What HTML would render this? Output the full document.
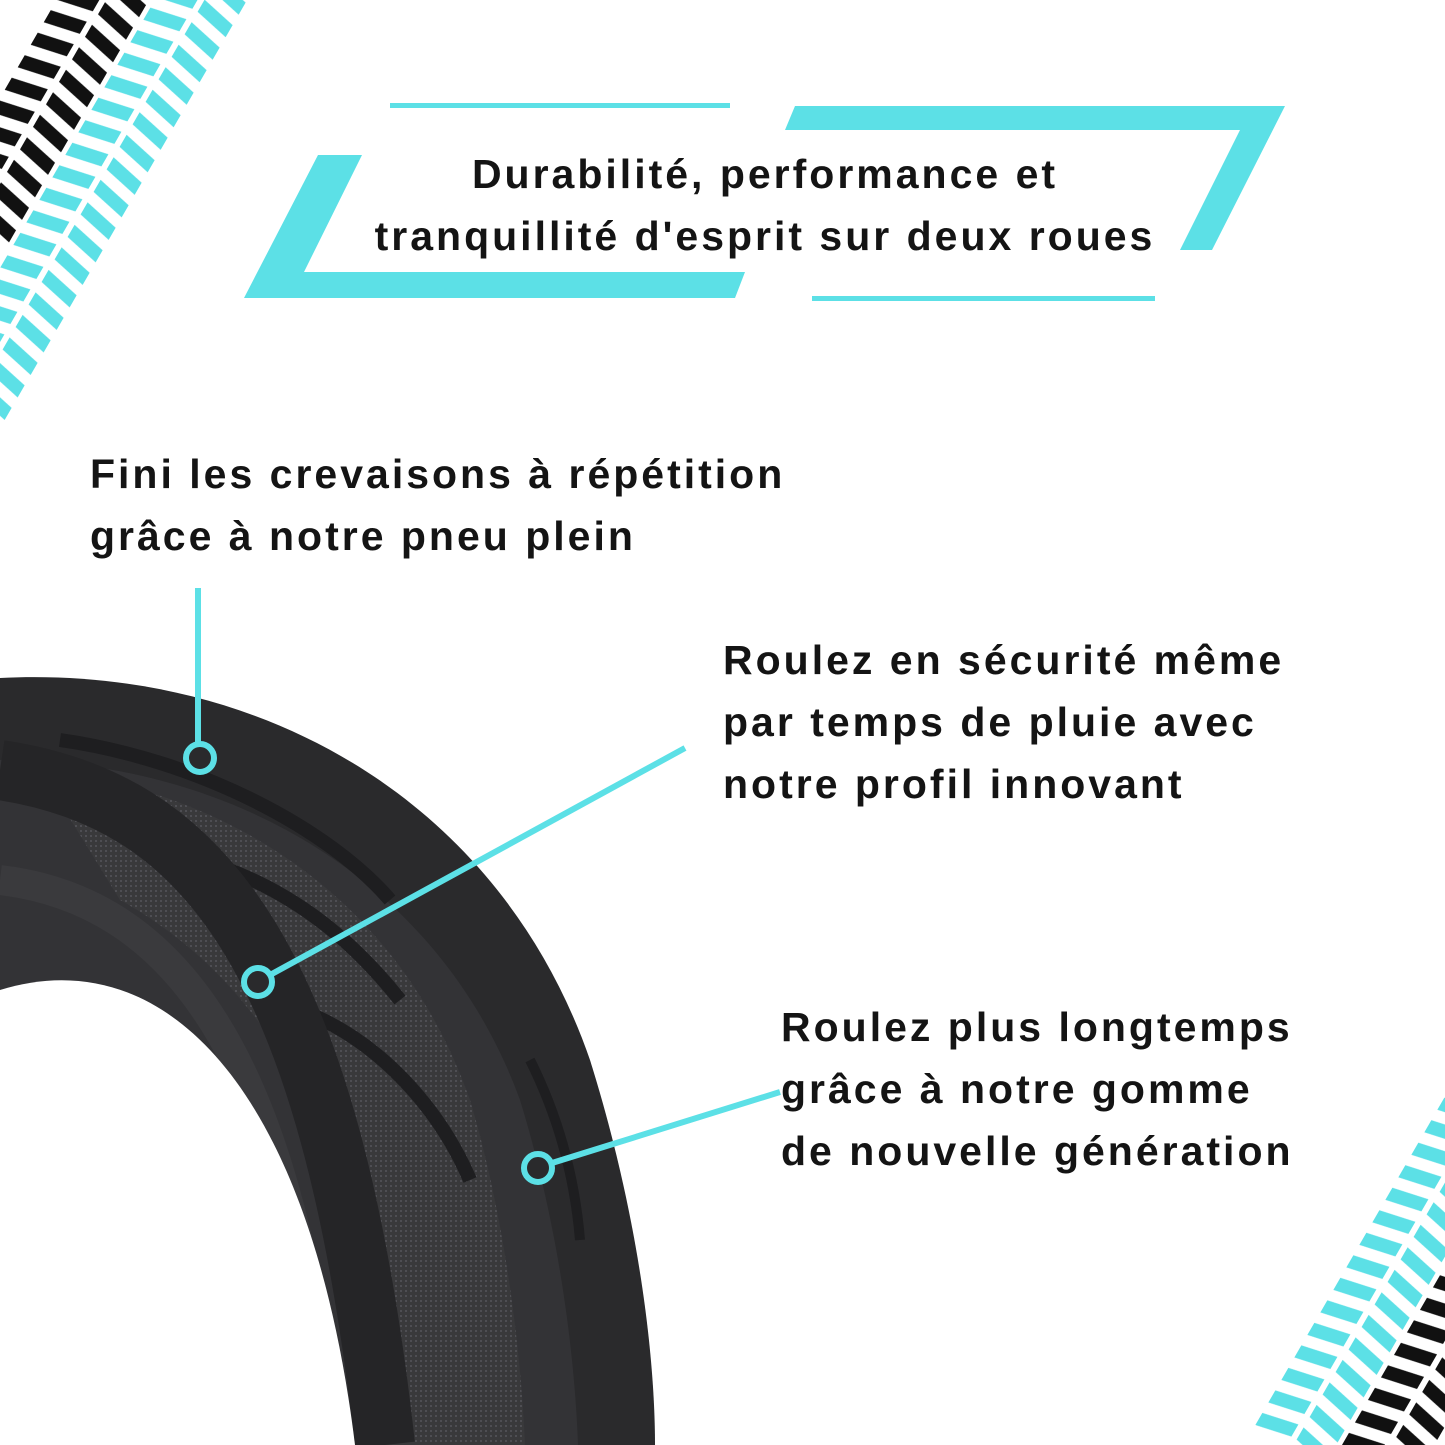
<!DOCTYPE html>
<html><head><meta charset="utf-8"><style>
html,body{margin:0;padding:0;background:#fff}
body{width:1445px;height:1445px;position:relative;overflow:hidden;font-family:"Liberation Sans",sans-serif}
.t{position:absolute;font-weight:bold;color:#141414;font-size:41px;line-height:62px;letter-spacing:3px;white-space:nowrap}
</style></head><body>
<svg width="1445" height="1445" style="position:absolute;left:0;top:0">
<defs>
<pattern id="pc" patternUnits="userSpaceOnUse" width="26" height="80" x="0" y="-40">
<polygon points="0,0 14,0 22,37 8,37" fill="#5ce0e6"/>
<polygon points="8,43 22,43 14,80 0,80" fill="#5ce0e6"/>
</pattern>
<pattern id="pk" patternUnits="userSpaceOnUse" width="26" height="80" x="0" y="-125">
<polygon points="0,0 14,0 22,37 8,37" fill="#111"/>
<polygon points="8,43 22,43 14,80 0,80" fill="#111"/>
</pattern>
<pattern id="pc2" patternUnits="userSpaceOnUse" width="26" height="80" x="0" y="-40">
<polygon points="0,0 14,0 22,37 8,37" fill="#5ce0e6"/>
<polygon points="8,43 22,43 14,80 0,80" fill="#5ce0e6"/>
</pattern>
<pattern id="pk2" patternUnits="userSpaceOnUse" width="26" height="80" x="0" y="45">
<polygon points="0,0 14,0 22,37 8,37" fill="#111"/>
<polygon points="8,43 22,43 14,80 0,80" fill="#111"/>
</pattern>
<pattern id="mesh" patternUnits="userSpaceOnUse" width="5" height="5">
<rect width="5" height="5" fill="#3a3a3c"/><rect width="2" height="2" fill="#55555a"/>
</pattern>
</defs>
<g transform="translate(-30,400) rotate(-60)">
<rect x="0" y="-40" width="600" height="80" fill="url(#pc)"/>
<rect x="150" y="-125" width="420" height="80" fill="url(#pk)"/>
</g>
<g transform="translate(1290,1445) rotate(-60)">
<rect x="0" y="-40" width="420" height="80" fill="url(#pc2)"/>
<rect x="0" y="45" width="420" height="80" fill="url(#pk2)"/>
</g>
<rect x="390" y="103" width="340" height="5" fill="#5ce0e6"/>
<rect x="812" y="296" width="343" height="5" fill="#5ce0e6"/>
<polygon points="318,155 362,155 304,272 745,272 735,298 244,298" fill="#5ce0e6"/>
<polygon points="795,106 1285,106 1212,250 1180,250 1240,130 785,130" fill="#5ce0e6"/>
<path d="M0,678 C260,665 500,800 590,1060 C640,1220 655,1360 655,1445 L0,1445 Z" fill="#2a2a2c"/>
<path d="M0,760 C230,760 440,880 520,1100 C560,1230 575,1360 578,1445 L0,1445 Z" fill="#333336"/>
<path d="M40,770 C230,790 400,900 470,1100 C500,1200 520,1330 525,1445 L380,1445 C370,1200 300,1000 120,900 Z" fill="url(#mesh)" opacity="0.8"/>
<path d="M60,740 C200,760 330,830 390,900" stroke="#1e1e20" stroke-width="14" fill="none"/>
<path d="M200,860 C300,890 360,950 400,1000" stroke="#1e1e20" stroke-width="14" fill="none"/>
<path d="M300,1010 C380,1040 440,1110 470,1180" stroke="#1e1e20" stroke-width="14" fill="none"/>
<path d="M530,1060 C560,1120 575,1180 580,1240" stroke="#1e1e20" stroke-width="10" fill="none"/>
<path d="M0,770 C200,800 330,950 385,1445" stroke="#252527" stroke-width="60" fill="none"/>
<path d="M0,880 C170,900 290,1050 330,1445" stroke="#3a3a3d" stroke-width="30" fill="none"/>
<path d="M0,990 C160,940 310,1080 355,1445 L0,1445 Z" fill="#fff"/>
<line x1="198" y1="588" x2="198" y2="744" stroke="#5ce0e6" stroke-width="6"/>
<circle cx="200" cy="758" r="14" fill="#2a2a2c" stroke="#5ce0e6" stroke-width="6"/>
<line x1="270" y1="975" x2="685" y2="748" stroke="#5ce0e6" stroke-width="6"/>
<circle cx="258" cy="982" r="14" fill="#2a2a2c" stroke="#5ce0e6" stroke-width="6"/>
<line x1="552" y1="1163" x2="780" y2="1092" stroke="#5ce0e6" stroke-width="6"/>
<circle cx="538" cy="1168" r="14" fill="#2a2a2c" stroke="#5ce0e6" stroke-width="6"/>
</svg>
<div class="t" style="left:300px;top:143px;width:930px;text-align:center">Durabilité, performance et<br>tranquillité d'esprit sur deux roues</div>
<div class="t" style="left:90px;top:443px">Fini les crevaisons à répétition<br>grâce à notre pneu plein</div>
<div class="t" style="left:723px;top:629px">Roulez en sécurité même<br>par temps de pluie avec<br>notre profil innovant</div>
<div class="t" style="left:781px;top:996px">Roulez plus longtemps<br>grâce à notre gomme<br>de nouvelle génération</div>
</body></html>
